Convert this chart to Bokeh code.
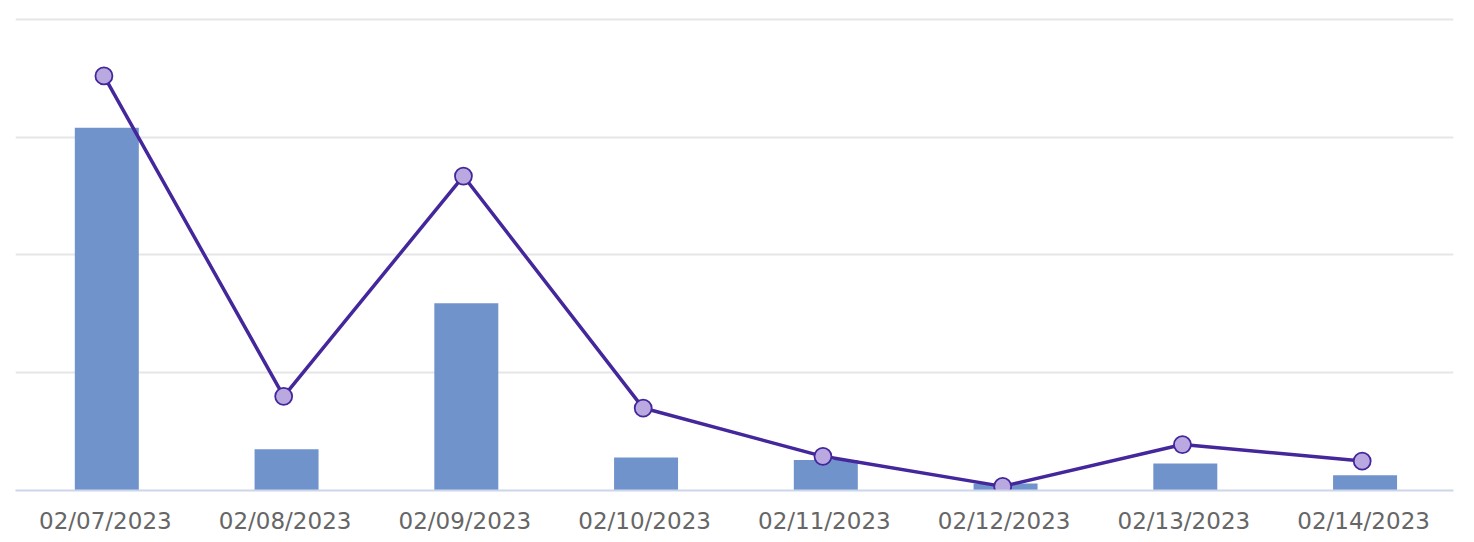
from bokeh.plotting import figure
from bokeh.models import ColumnDataSource, Range1d, FixedTicker
from bokeh.transform import dodge
from bokeh.embed import file_html
from bokeh.resources import INLINE

dates = ["02/07/2023", "02/08/2023", "02/09/2023", "02/10/2023",
         "02/11/2023", "02/12/2023", "02/13/2023", "02/14/2023"]
bar_values = [3.08, 0.35, 1.59, 0.28, 0.26, 0.06, 0.23, 0.13]
line_values = [3.52, 0.80, 2.67, 0.70, 0.29, 0.035, 0.39, 0.25]
grid_ticks = [1, 2, 3, 4]

src = ColumnDataSource(dict(date=dates, bar=bar_values, line=line_values))

p = figure(x_range=dates, y_range=Range1d(0, 4.05), width=1468, height=536,
           output_backend="svg", toolbar_location=None,
           min_border_left=15, min_border_right=15, min_border_top=13,
           min_border_bottom=42)
p.outline_line_color = None
p.background_fill_color = "white"

p.vbar(x=dodge("date", 0.008, range=p.x_range), top="bar", width=0.356,
       source=src, fill_color="#7093cc", line_color=None)
p.line(x=dodge("date", -0.008, range=p.x_range), y="line", source=src,
       line_color="#45279c", line_width=3.5)
p.scatter(x=dodge("date", -0.008, range=p.x_range), y="line", source=src,
          size=17, fill_color="#b9a9e0", line_color="#45279c", line_width=1.8)

p.yaxis.visible = False
p.ygrid.ticker = FixedTicker(ticks=grid_ticks)
p.ygrid.grid_line_color = "#e6e6e6"
p.ygrid.grid_line_width = 2
p.xgrid.grid_line_color = None

ax = p.xaxis[0]
ax.axis_line_color = "#ccd6eb"
ax.axis_line_width = 2
ax.major_tick_line_color = None
ax.minor_tick_line_color = None
ax.major_label_text_font = "DejaVu Sans"
ax.major_label_text_font_size = "23px"
ax.major_label_text_color = "#666666"
ax.major_label_standoff = 11

open("out.html", "w").write(file_html(p, INLINE))
